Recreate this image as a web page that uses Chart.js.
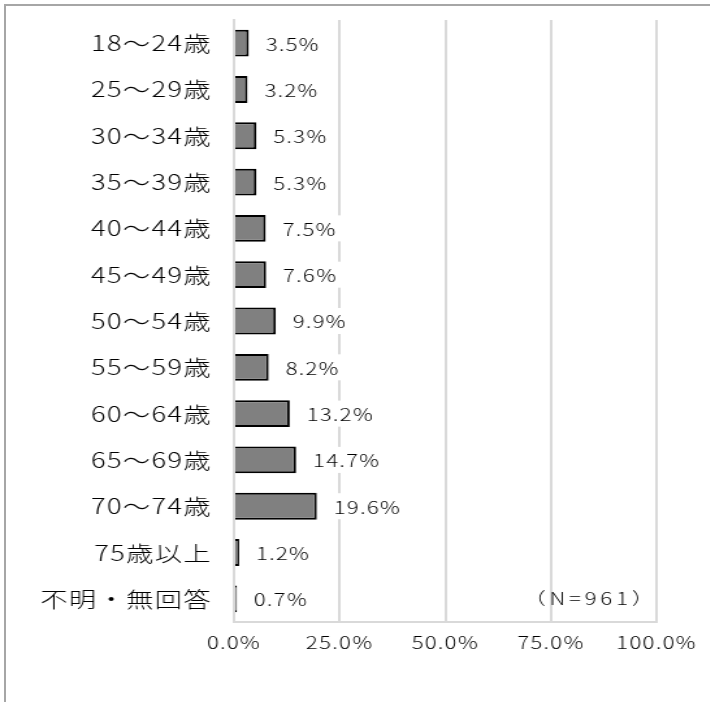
<!DOCTYPE html>
<html lang="ja">
<head>
<meta charset="utf-8">
<title>年齢別構成</title>
<script src="https://cdn.jsdelivr.net/npm/chart.js@4.4.1/dist/chart.umd.min.js"></script>
<style>
  html, body { margin: 0; padding: 0; background: #fff; }
  body { width: 710px; height: 702px; position: relative; overflow: hidden; }
  #frame {
    position: absolute; left: 4px; top: 4px; right: -10px; bottom: -10px;
    border-top: 2px solid #a6a6a6; border-left: 2px solid #a6a6a6;
  }
  /* the reference is drawn horizontally stretched, so the chart is too */
  #wrap {
    position: absolute; left: 0; top: 0; width: 546px; height: 702px;
    transform: scaleX(1.3); transform-origin: 0 0;
  }
</style>
</head>
<body>
<div id="frame"></div>
<div id="wrap"><canvas id="ageChart"></canvas></div>
<script>
// ── Data ─────────────────────────────────────────────────────────────────────
const categories = ['18～24歳', '25～29歳', '30～34歳', '35～39歳', '40～44歳', '45～49歳',
                    '50～54歳', '55～59歳', '60～64歳', '65～69歳', '70～74歳', '75歳以上', '不明・無回答'];
const values     = [3.5, 3.2, 5.3, 5.3, 7.5, 7.6, 9.9, 8.2, 13.2, 14.7, 19.6, 1.2, 0.7];
const xTicks     = [0, 25, 50, 75, 100];
const noteText   = '（N=961）';

const FONT = '"Noto Sans CJK JP", "Noto Sans", sans-serif';

// ── Plugins ──────────────────────────────────────────────────────────────────
const spacing = {
  id: 'spacing',
  beforeLayout(chart) { chart.ctx.letterSpacing = '1px'; },
  beforeDraw(chart)   { chart.ctx.letterSpacing = '1px'; },
};

const valueLabels = {
  id: 'valueLabels',
  afterDatasetsDraw(chart) {
    const { ctx, chartArea } = chart;
    const meta = chart.getDatasetMeta(0);
    ctx.save();
    ctx.letterSpacing = '1px';
    ctx.font = `300 17px ${FONT}`;
    ctx.textBaseline = 'middle';
    meta.data.forEach((bar, i) => {
      const txt = values[i].toFixed(1) + '%';
      const x = bar.x + 13;
      const w = ctx.measureText(txt).width;
      ctx.fillStyle = '#fff';
      ctx.fillRect(x - 3, bar.y - 13, w + 6, 26);
      ctx.fillStyle = '#000';
      ctx.fillText(txt, x, bar.y + 1);
    });

    // sample size note, bottom right of the plot
    const last = meta.data[meta.data.length - 1];
    ctx.letterSpacing = '3px';
    ctx.textAlign = 'right';
    ctx.fillText(noteText, chartArea.right + 1, last.y);
    ctx.restore();
  }
};

// ── Chart ────────────────────────────────────────────────────────────────────
new Chart(document.getElementById('ageChart').getContext('2d'), {
  type: 'bar',
  data: {
    labels: categories,
    datasets: [{
      data: values,
      backgroundColor: '#808080',
      borderColor: '#000',
      borderWidth: 2,
      categoryPercentage: 1,
      barPercentage: 0.58,
    }]
  },
  options: {
    indexAxis: 'y',
    responsive: true, maintainAspectRatio: false,
    animation: false,
    layout: { padding: { top: 20, left: 0, right: 0, bottom: 0 } },
    plugins: { legend: { display: false }, tooltip: { enabled: false } },
    scales: {
      x: {
        min: 0, max: 100,
        afterBuildTicks: s => { s.ticks = xTicks.map(v => ({ value: v })); },
        afterFit: s => { s.height = 80; },
        ticks: {
          color: '#000', font: { family: FONT, size: 17, weight: 300 }, padding: 10,
          maxRotation: 0, callback: v => Number(v).toFixed(1) + '%',
        },
        grid: { color: '#d9d9d9', lineWidth: 2, drawTicks: false },
        border: { display: true, color: '#d9d9d9', width: 2 },
      },
      y: {
        afterFit: s => { s.width = 180; s.paddingTop = 0; s.paddingBottom = 0; },
        ticks: { color: '#000', font: { family: FONT, size: 21, weight: 300 }, padding: 17 },
        grid: { display: false, drawTicks: false },
        border: { display: true, color: '#d9d9d9', width: 2 },
      }
    }
  },
  plugins: [spacing, valueLabels]
});
</script>
</body>
</html>
